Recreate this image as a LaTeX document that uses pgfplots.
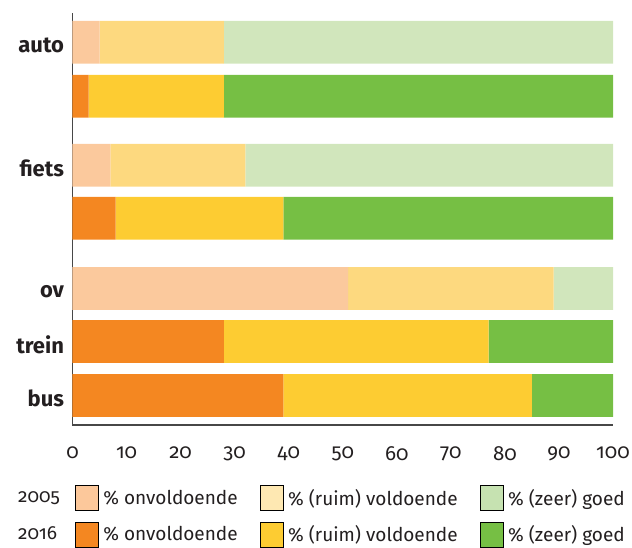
\documentclass[border=0pt]{standalone}
\usepackage{pgfplots}
\pgfplotsset{compat=1.18}
\usepackage{fontspec}
\setmainfont{Fira Sans}[Numbers=OldStyle]
\definecolor{lo}{HTML}{FBC99D}
\definecolor{ly}{HTML}{FDD97F}
\definecolor{lg}{HTML}{D1E6BC}
\definecolor{do}{HTML}{F48721}
\definecolor{dy}{HTML}{FDCC32}
\definecolor{dg}{HTML}{76BF44}
\definecolor{leglo}{HTML}{FCC89B}
\definecolor{legly}{HTML}{FEE8B2}
\definecolor{leglg}{HTML}{C6E2B1}
\definecolor{txt}{HTML}{231F20}
\pgfplotsset{patch/.style={legend image code/.code={\fill[##1] (0pt,-12.5pt) rectangle (23pt,12.5pt);}}}
\newcommand{\lfont}{\fontsize{19}{22}\selectfont}
\newcommand{\tfont}{\fontsize{20.5}{23}\selectfont}
\newcommand{\cfont}{\fontsize{22}{25}\selectfont}
\begin{document}
\begin{tikzpicture}
\begin{axis}[
  name=ax, at={(0,0)}, anchor=south west,
  scale only axis, width=540.5pt, height=412pt,
  xbar stacked, bar width=42.7,
  xmin=0, xmax=100, ymin=-425, ymax=-13,
  axis x line*=bottom, axis y line*=left,
  axis line style={black!72, line width=1.1pt, -},
  xtick={0,10,...,100}, major tick length=0pt,
  ytick={-42.3,-165.3,-288.5,-341.5,-395.5},
  yticklabels={auto,fiets,ov,trein,bus},
  yticklabel style={font=\cfont\bfseries, text=txt, xshift=-5pt, yshift=-3pt},
  xticklabel style={font=\tfont, text=txt, yshift=-18pt},
  /pgf/number format/assume math mode=true,
  legend columns=4,
  legend cell align=left,
  legend style={draw=none, fill=none, at={(0,0)}, anchor=north west,
    xshift=-62pt, yshift=-58pt, font=\lfont, text=txt,
    nodes={inner xsep=4.5pt},
    /tikz/every even column/.append style={column sep=18pt},
    row sep=11pt},
]
\addplot[fill=lo, draw=none, forget plot] coordinates {(5,-42.3) (0,-96.3) (7,-165.3) (0,-218.3) (51,-288.5) (0,-341.5) (0,-395.5)};
\addplot[fill=do, draw=none, forget plot] coordinates {(0,-42.3) (3,-96.3) (0,-165.3) (8,-218.3) (0,-288.5) (28,-341.5) (39,-395.5)};
\addplot[fill=ly, draw=none, forget plot] coordinates {(23,-42.3) (0,-96.3) (25,-165.3) (0,-218.3) (38,-288.5) (0,-341.5) (0,-395.5)};
\addplot[fill=dy, draw=none, forget plot] coordinates {(0,-42.3) (25,-96.3) (0,-165.3) (31,-218.3) (0,-288.5) (49,-341.5) (46,-395.5)};
\addplot[fill=lg, draw=none, forget plot] coordinates {(72,-42.3) (0,-96.3) (68,-165.3) (0,-218.3) (11,-288.5) (0,-341.5) (0,-395.5)};
\addplot[fill=dg, draw=none, forget plot] coordinates {(0,-42.3) (72,-96.3) (0,-165.3) (61,-218.3) (0,-288.5) (23,-341.5) (15,-395.5)};
\addlegendimage{empty legend}\addlegendentry{2005\hspace*{-7pt}}
\addlegendimage{patch, fill=leglo}\addlegendentry{\% onvoldoende}
\addlegendimage{patch, fill=legly}\addlegendentry{\% (ruim) voldoende}
\addlegendimage{patch, fill=leglg}\addlegendentry{\% (zeer) goed}
\addlegendimage{empty legend}\addlegendentry{2016\hspace*{-7pt}}
\addlegendimage{patch, fill=do}\addlegendentry{\% onvoldoende}
\addlegendimage{patch, fill=dy}\addlegendentry{\% (ruim) voldoende}
\addlegendimage{patch, fill=dg}\addlegendentry{\% (zeer) goed}
\end{axis}
\pgfresetboundingbox
\useasboundingbox ([shift={(-72.5pt,-123pt)}]ax.south west) rectangle ([shift={(559.5pt,425pt)}]ax.south west);
\end{tikzpicture}
\end{document}
